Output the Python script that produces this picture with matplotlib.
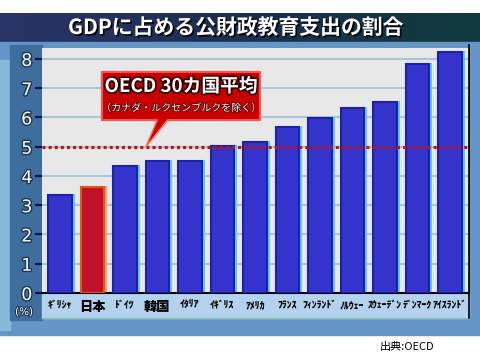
import unicodedata
import numpy as np
import matplotlib
matplotlib.use('Agg')
import matplotlib.pyplot as plt
import matplotlib.patheffects as pe
from matplotlib.patches import Rectangle, Polygon
from matplotlib.colors import LinearSegmentedColormap

plt.rcParams['font.family'] = ['Noto Sans CJK JP', 'DejaVu Sans']

# ---------------- data ----------------
title = 'GDPに占める公財政教育支出の割合'
countries = ['ギリシャ', '日本', 'ドイツ', '韓国', 'イタリア', 'イギリス', 'アメリカ',
             'フランス', 'フィンランド', 'ノルウェー', 'スウェーデン', 'デンマーク', 'アイスランド']
values = [3.35, 3.63, 4.35, 4.51, 4.51, 5.02, 5.16, 5.67, 5.98, 6.32, 6.53, 7.83, 8.23]
highlight = '日本'
oecd_avg = 5.0
avg_label = 'OECD 30カ国平均'
avg_note = '（カナダ・ルクセンブルクを除く）'
yticks = [0, 1, 2, 3, 4, 5, 6, 7, 8]
unit_label = '(%)'
source = '出典:OECD'


def condensed(s):
    """Show katakana in its narrow (half-width) form, like the TV caption."""
    m = {}
    for c in range(0xFF66, 0xFF9E):
        h = chr(c)
        m[unicodedata.normalize('NFKC', h)] = h
        for mk in ('\uff9e', '\uff9f'):
            f2 = unicodedata.normalize('NFKC', h + mk)
            if len(f2) == 1:
                m[f2] = h + mk
    return ''.join(m.get(ch, ch) for ch in s)


W, H = 481, 357
fig = plt.figure(figsize=(W / 100, H / 100), dpi=100, facecolor='white')

# ---------------- background (pixel coordinates) ----------------
bg = fig.add_axes([0, 0, 1, 1], zorder=0)
bg.axis('off')
cm = LinearSegmentedColormap.from_list('t', ['#2a3466', '#1b2f50', '#0f3a3c'])
bg.imshow(np.linspace(0, 1, 256).reshape(1, -1), extent=(0, W, 42, 13),
          cmap=cm, aspect='auto')
bg.add_patch(Rectangle((0, 42), W, 293, color='#6497c8'))
bg.add_patch(Rectangle((0, 60), 10, 270, color='#86b9da'))
bg.add_patch(Rectangle((10, 45), 32, 275, color='#3e6e9e'))
bg.add_patch(Rectangle((42, 293), 427, 25, color='#b4d2ee'))
bg.plot([42, 469], [318, 318], color='#8fc4b0', lw=1)
bg.plot([469, 469], [45, 318], color='black', lw=1.2)
bg.set_xlim(0, W)
bg.set_ylim(H, 0)

bg.text(236, 27.5, title, color='white', fontsize=15, fontweight='bold',
        ha='center', va='center',
        path_effects=[pe.withSimplePatchShadow(offset=(1.2, -1.2), shadow_rgbFace='black', alpha=0.9)])
bg.text(24, 312, unit_label, color='white', fontsize=7.5, ha='center', va='center',
        family='DejaVu Sans',
        path_effects=[pe.Stroke(linewidth=1.5, foreground='#1d3550'), pe.Normal()])
bg.text(407, 347, source, color='black', fontsize=8, ha='center', va='center')

# ---------------- main chart ----------------
ax = fig.add_axes([42 / W, (H - 293) / H, 427 / W, 245 / H], zorder=1)
ax.set_facecolor('#e8e8e8')
x = np.arange(len(countries))

for y in yticks[1:]:
    ax.axhline(y, color='#a9c6d2', lw=1.5, zorder=0.5)

face = ['#c0102a' if c == highlight else '#3434cc' for c in countries]
edge = ['#e0561c' if c == highlight else '#1c22a6' for c in countries]
glow = ['#f2a06c' if c == highlight else '#5cc6f6' for c in countries]
ax.bar(x + 0.05, np.array(values) + 0.04, width=0.82, color=glow, zorder=2)
ax.bar(x, values, width=0.73, color=face, edgecolor=edge, linewidth=1.5, zorder=3)

ax.axhline(oecd_avg, color='#c81010', lw=2.2, linestyle=(0, (1, 1)), zorder=4)

# callout
bx0, bx1, by0, by1 = 1.30, 6.16, 5.91, 7.55
ax.add_patch(Rectangle((bx0, by0), bx1 - bx0, by1 - by0, facecolor='#c80000',
                       edgecolor='#ff5050', lw=1.5, zorder=5))
tip = (2.65, oecd_avg)
ax.add_patch(Polygon([(3.0, by0 + 0.05), (3.32, by0 + 0.05), tip], closed=True,
                     facecolor='#c80000', edgecolor='none', zorder=6))
ax.plot([3.0, tip[0], 3.32], [by0, tip[1], by0], color='#ff6a50', lw=1.0, zorder=6)
cx = (bx0 + bx1) / 2
ax.text(cx, 7.06, avg_label, color='white', fontsize=13.5, fontweight='bold',
        ha='center', va='center', zorder=7,
        path_effects=[pe.Stroke(linewidth=2.5, foreground='#300000'), pe.Normal()])
ax.text(cx, 6.32, avg_note, color='white', fontsize=7.2, ha='center', va='center', zorder=7,
        path_effects=[pe.Stroke(linewidth=1.2, foreground='#500000'), pe.Normal()])

ax.set_xlim(-0.55, -0.55 + 427 / 32.5)
ax.set_ylim(0, 245 / 29.26)

ax.set_yticks(yticks)
ax.set_yticklabels([str(v) for v in yticks], family='DejaVu Sans', fontsize=12.5,
                   color='white')
for t in ax.get_yticklabels():
    t.set_path_effects([pe.Stroke(linewidth=2, foreground='#1d3550'), pe.Normal()])
ax.tick_params(axis='y', direction='out', length=5, width=1.5, color='#0a0a50', pad=2)

ax.set_xticks(x)
ax.set_xticklabels([condensed(c) for c in countries], fontsize=7.0, fontweight='heavy',
                   color='black')
for t, c in zip(ax.get_xticklabels(), countries):
    if all(ord(ch) > 0x4E00 for ch in c):
        t.set_fontsize(9.5)
ax.tick_params(axis='x', length=0, pad=5)

for s in ('left', 'top'):
    ax.spines[s].set_visible(False)
ax.spines['right'].set_color('black')
ax.spines['right'].set_linewidth(1.2)
ax.spines['bottom'].set_color('black')
ax.spines['bottom'].set_linewidth(1.5)

fig.savefig('out.png', dpi=100, facecolor='white')
